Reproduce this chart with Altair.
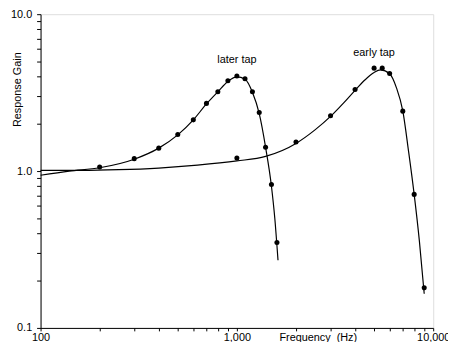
import altair as alt
import pandas as pd

# Curves (smooth fitted lines)
later_curve_freq = [100, 140, 200, 300, 400, 500, 600, 700, 800, 900, 1000, 1100, 1200, 1300, 1400, 1500, 1560, 1620]
later_curve_gain = [0.94, 1.0, 1.05, 1.19, 1.40, 1.70, 2.12, 2.68, 3.20, 3.72, 3.98, 3.85, 3.18, 2.32, 1.42, 0.80, 0.50, 0.27]

early_curve_freq = [100, 160, 250, 400, 630, 1000, 1400, 2000, 2500, 3000, 3500, 4000, 4500, 5000, 5400, 6000, 6500, 7000, 7500, 8000, 8500, 9000]
early_curve_gain = [1.01, 1.01, 1.02, 1.045, 1.09, 1.16, 1.24, 1.50, 1.83, 2.23, 2.72, 3.27, 3.82, 4.25, 4.41, 4.17, 3.39, 2.42, 1.32, 0.71, 0.36, 0.165]

# Measured points
later_pts_freq = [200, 300, 400, 500, 600, 700, 800, 900, 1000, 1100, 1200, 1300, 1400, 1500, 1600]
later_pts_gain = [1.06, 1.2, 1.4, 1.71, 2.12, 2.7, 3.2, 3.77, 4.03, 3.88, 3.2, 2.36, 1.42, 0.82, 0.35]

early_pts_freq = [1000, 2000, 3000, 4000, 5000, 5500, 6000, 7000, 8000, 9000]
early_pts_gain = [1.21, 1.53, 2.25, 3.31, 4.53, 4.53, 4.19, 2.41, 0.71, 0.18]

# Annotations
label_text = ["later tap", "early tap"]
label_freq = [1000, 5000]
label_gain = [5.13, 5.62]

# Axis ticks
x_ticks = [100, 200, 300, 400, 500, 600, 700, 800, 900,
           1000, 2000, 3000, 4000, 5000, 6000, 7000, 8000, 9000, 10000]
y_ticks = [0.1, 0.2, 0.3, 0.4, 0.5, 0.6, 0.7, 0.8, 0.9,
           1, 2, 3, 4, 5, 6, 7, 8, 9, 10]

curves = pd.concat([
    pd.DataFrame({"freq": later_curve_freq, "gain": later_curve_gain, "series": "later"}),
    pd.DataFrame({"freq": early_curve_freq, "gain": early_curve_gain, "series": "early"}),
])
points = pd.concat([
    pd.DataFrame({"freq": later_pts_freq, "gain": later_pts_gain, "series": "later"}),
    pd.DataFrame({"freq": early_pts_freq, "gain": early_pts_gain, "series": "early"}),
])
labels = pd.DataFrame({"freq": label_freq, "gain": label_gain, "text": label_text})

FONT = "Liberation Sans"

xscale = alt.Scale(type="log", domain=[100, 10000], nice=False)
yscale = alt.Scale(type="log", domain=[0.1, 10], nice=False)

xaxis = alt.Axis(
    values=x_ticks,
    labelExpr="datum.value == 100 ? '100' : datum.value == 1000 ? '1,000' : datum.value == 10000 ? '10,000' : ''",
    title="Frequency\u00a0 (Hz)", titleX=281, titleY=13, titleBaseline="alphabetic",
    titleAlign="center", titleFontWeight="normal", titleFontSize=11, titleFont=FONT,
    labelFont=FONT, labelFontSize=11, labelFlush=False, labelOverlap=False,
    tickSize=3, labelPadding=1, grid=False, domainColor="black", tickColor="black",
    labelColor="black", titleColor="black",
)
yaxis = alt.Axis(
    values=y_ticks,
    labelExpr="datum.value == 10 ? '10.0' : datum.value == 1 ? '1.0' : datum.value == 0.1 ? '0.1' : ''",
    title="Response Gain", titleX=-18, titleY=76, titleAlign="center", titleBaseline="bottom",
    titleFontWeight="normal", titleFontSize=11, titleFont=FONT,
    labelFont=FONT, labelFontSize=11, labelFlush=False, labelOverlap=False,
    tickSize=4, labelPadding=5, grid=False, domainColor="black", tickColor="black",
    labelColor="black", titleColor="black",
)

lines = alt.Chart(curves).mark_line(color="black", strokeWidth=1.2, interpolate="monotone").encode(
    x=alt.X("freq:Q", scale=xscale, axis=xaxis),
    y=alt.Y("gain:Q", scale=yscale, axis=yaxis),
    detail="series:N",
)
dots = alt.Chart(points).mark_circle(color="black", size=26, opacity=1).encode(
    x=alt.X("freq:Q", scale=xscale),
    y=alt.Y("gain:Q", scale=yscale),
)
texts = alt.Chart(labels).mark_text(font=FONT, fontSize=11, color="black", baseline="middle", align="center").encode(
    x=alt.X("freq:Q", scale=xscale),
    y=alt.Y("gain:Q", scale=yscale),
    text="text:N",
)

chart = alt.layer(lines, dots, texts).properties(
    width=398, height=318,
    autosize=alt.AutoSizeParams(type="none"),
    padding={"left": 33, "top": 4, "right": 15, "bottom": 12},
).configure_view(stroke=None).configure(background="white")

chart.save("out.html", embed_options={"renderer": "svg", "actions": False})
